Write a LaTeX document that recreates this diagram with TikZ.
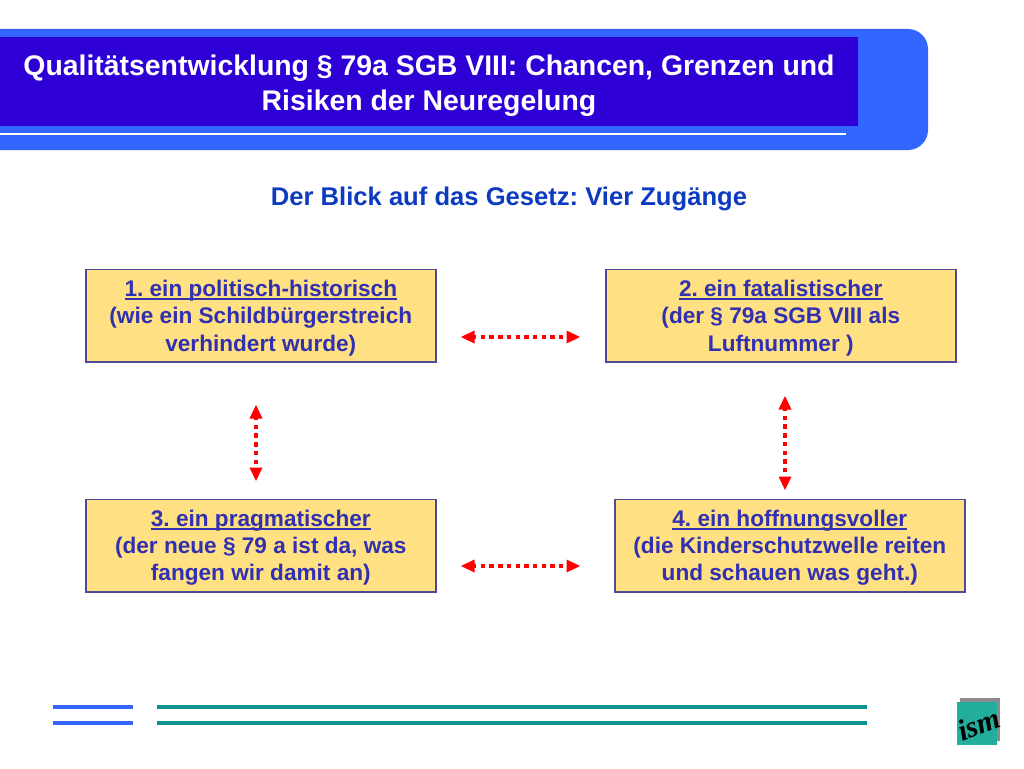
\documentclass[tikz,border=0pt]{standalone}
\usepackage{fontspec}
\setmainfont{Liberation Sans}
\usetikzlibrary{arrows.meta}
\newfontfamily\logofont{Liberation Serif}
\definecolor{band}{HTML}{3366FF}
\definecolor{dark}{HTML}{2E00D6}
\definecolor{boxfill}{HTML}{FFE082}
\definecolor{boxline}{HTML}{4F4A96}
\definecolor{boxtext}{HTML}{3030B0}
\definecolor{subt}{HTML}{0D3BC0}
\definecolor{tealline}{HTML}{0E9490}
\definecolor{logoteal}{HTML}{22AD9C}
\newlength{\ullen}
\newcommand{\ul}[1]{\rule{0pt}{21pt}\settowidth{\ullen}{#1}\rlap{\rule[-3.2pt]{\ullen}{1.8pt}}#1}
\tikzset{
 x=1pt,y=-1pt,
 infobox/.style={draw=boxline,line width=1.6pt,fill=boxfill,text=boxtext,font=\fontsize{22.6}{27.3}\selectfont\bfseries\frenchspacing,align=center,minimum width=350pt,minimum height=92.5pt,inner sep=0pt,anchor=north west},
 link/.style={draw=red,line width=4.4pt,dash pattern=on 4.4pt off 4.3pt,shorten <=11pt,shorten >=11pt},
 tiphead/.style={fill=red,draw=none},
 barblue/.style={draw=band,line width=4pt},
 barteal/.style={draw=tealline,line width=4pt},
}
\begin{document}
\begin{tikzpicture}
\useasboundingbox (0,0) rectangle (1024,768);
\fill[white] (0,0) rectangle (1024,768);
% header
\fill[band,rounded corners=20pt] (-40,29) -- (928,29) -- (928,150) -- (-40,150) -- cycle;
\fill[dark] (0,37) rectangle (858,126);
\draw[white,line width=2pt] (0,133.5) -- (846,133.5);
\node[name=title,text=white,font=\fontsize{28.4}{35}\selectfont\bfseries\frenchspacing,align=center,inner sep=0pt] at (429,86) {Qualitätsentwicklung § 79a SGB VIII: Chancen, Grenzen und\\Risiken der Neuregelung};
\node[name=subtitle,text=subt,font=\fontsize{25.6}{29}\selectfont\bfseries\frenchspacing,inner sep=0pt] at (509,199) {Der Blick auf das Gesetz: Vier Zugänge};
% boxes
\node[infobox,name=b1] at (85,268.5) {\ul{1. ein politisch-historisch}\\(wie ein Schildbürgerstreich\\verhindert wurde)};
\node[infobox,name=b2] at (605,268.5) {\ul{2. ein fatalistischer}\\(der § 79a SGB VIII als\\Luftnummer )};
\node[infobox,name=b3] at (85,498.5) {\ul{3. ein pragmatischer}\\(der neue § 79 a ist da, was\\fangen wir damit an)};
\node[infobox,name=b4] at (614,498.5) {\ul{4. ein hoffnungsvoller}\\(die Kinderschutzwelle reiten\\und schauen was geht.)};
% arrow ends
\coordinate (h1a) at (461,337); \coordinate (h1b) at (580,337);
\coordinate (h2a) at (461,566); \coordinate (h2b) at (580,566);
\coordinate (v1a) at (256,405); \coordinate (v1b) at (256,481);
\coordinate (v2a) at (785,396); \coordinate (v2b) at (785,490);
\foreach \a/\b in {h1a/h1b,h2a/h2b,v1a/v1b,v2a/v2b}{
  \draw[link] (\a) -- (\b);
}
% arrow heads
\foreach \p/\dx/\dy in {h1a/1/0,h1b/-1/0,h2a/1/0,h2b/-1/0,v1a/0/1,v1b/0/-1,v2a/0/1,v2b/0/-1}{
  \fill[tiphead] (\p) -- ++(13.5*\dx+6.5*\dy,13.5*\dy+6.5*\dx) -- ++(-13*\dy,-13*\dx) -- cycle;
}
% footer
\coordinate (fl1) at (53,706.5); \coordinate (fl2) at (133,706.5);
\coordinate (fl3) at (53,722.5); \coordinate (fl4) at (133,722.5);
\coordinate (ft1) at (157,706.5); \coordinate (ft2) at (867,706.5);
\coordinate (ft3) at (157,722.5); \coordinate (ft4) at (867,722.5);
\draw[barblue] (fl1) -- (fl2);
\draw[barblue] (fl3) -- (fl4);
\draw[barteal] (ft1) -- (ft2);
\draw[barteal] (ft3) -- (ft4);
% logo
\fill[black!45] (960,698) rectangle (999.5,741);
\fill[logoteal] (956.5,702) rectangle (997,745);
\node[name=logo,rotate=20,text=black,inner sep=0pt,font=\logofont\fontsize{30}{30}\selectfont\bfseries\itshape] at (979,724) {ism};
\end{tikzpicture}
\end{document}
